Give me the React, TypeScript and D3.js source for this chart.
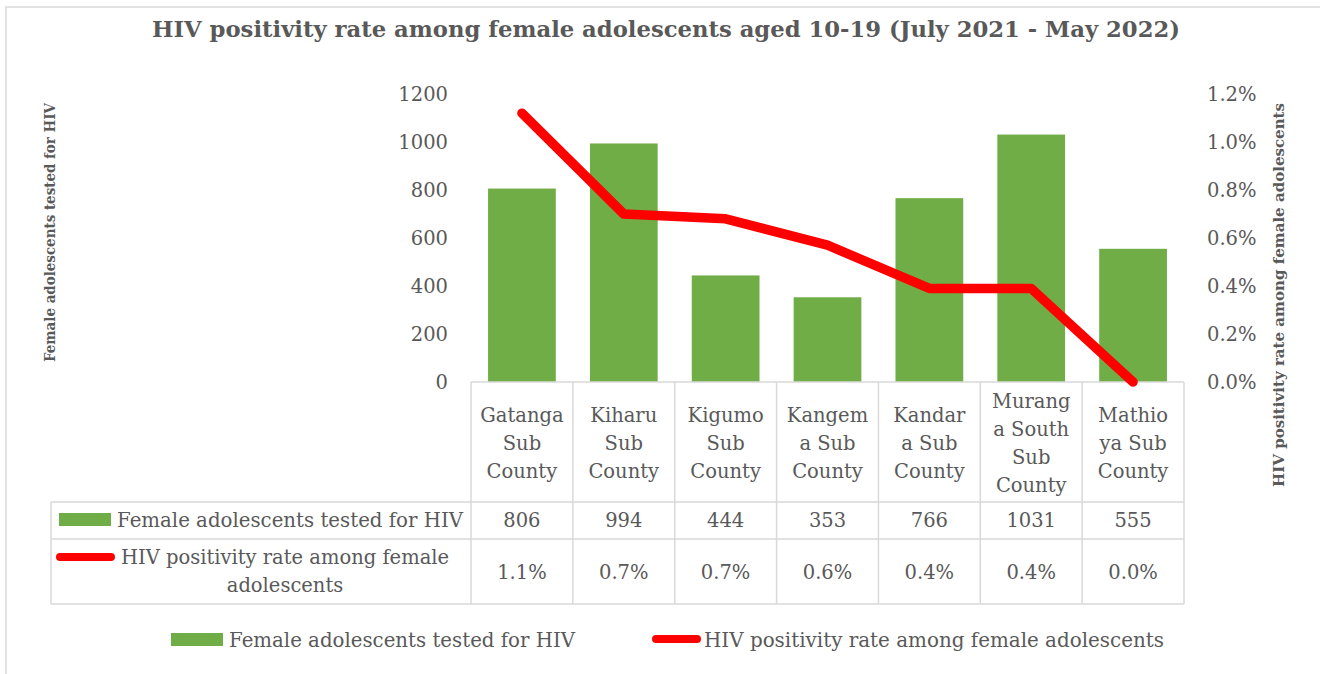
import React from "react";
import * as d3 from "d3";

const categories = [
  "Gatanga Sub County",
  "Kiharu Sub County",
  "Kigumo Sub County",
  "Kangema Sub County",
  "Kandara Sub County",
  "Muranga South Sub County",
  "Mathioya Sub County",
];
const categoryLines = [
  ["Gatanga", "Sub", "County"],
  ["Kiharu", "Sub", "County"],
  ["Kigumo", "Sub", "County"],
  ["Kangem", "a Sub", "County"],
  ["Kandar", "a Sub", "County"],
  ["Murang", "a South", "Sub", "County"],
  ["Mathio", "ya Sub", "County"],
];
const tested = [806, 994, 444, 353, 766, 1031, 555];
const positivity = [0.0112, 0.007, 0.0068, 0.0057, 0.0039, 0.0039, 0.0];
const leftTicks = [0, 200, 400, 600, 800, 1000, 1200];
const rightTicks = [0, 0.002, 0.004, 0.006, 0.008, 0.01, 0.012];

const title = "HIV positivity rate among female adolescents aged 10-19 (July 2021 - May 2022)";
const seriesBar = "Female adolescents tested for HIV";
const seriesLine = "HIV positivity rate among female adolescents";
const seriesLineWrapped = ["HIV positivity rate among female", "adolescents"];

const TEXT = "#595959";
const GRID = "#D9D9D9";
const GREEN = "#70AD47";
const RED = "#FF0000";
const FONT = "'DejaVu Serif', 'Liberation Serif', serif";

export default function App() {
  const W = 1320, H = 674;
  const plotL = 471, plotR = 1184, plotT = 94, plotB = 382;
  const x = d3.scaleBand<string>().domain(categories).range([plotL, plotR]).paddingInner(0.335).paddingOuter(0.1675);
  const yL = d3.scaleLinear().domain([0, 1200]).range([plotB, plotT]);
  const yR = d3.scaleLinear().domain([0, 0.012]).range([plotB, plotT]);
  const bw = x.bandwidth();
  const step = x.step();
  const colStart = (c: string) => (x(c) as number) - (step - bw) / 2;
  const cx = (c: string) => (x(c) as number) + bw / 2;

  const lineGen = d3.line<number>().x((_, i) => cx(categories[i])).y((v) => yR(v));
  const pct = d3.format(".1%");
  const fmtL = d3.format("d");

  const headerB = 502, row1B = 539, row2B = 604, tableL = 51;
  const fs = 19.5;

  return (
    <svg width={W} height={H} style={{ position: "absolute", left: 0, top: 0, background: "#fff" }} fontFamily={FONT}>
      <rect x={0} y={0} width={W} height={H} fill="#fff" />
      {/* chart border */}
      <path d={`M6,${H} V7 H${W}`} fill="none" stroke={GRID} strokeWidth={1.5} />

      {/* title */}
      <text x={666} y={37} textAnchor="middle" fontSize={22} fontWeight="bold" fill={TEXT} textLength={1028} lengthAdjust="spacingAndGlyphs">
        {title}
      </text>

      {/* axis titles */}
      <text transform={`translate(55,${(103 + 362) / 2}) rotate(-90)`} textAnchor="middle" fontSize={14} fontWeight="bold" fill={TEXT} textLength={259} lengthAdjust="spacingAndGlyphs">
        {seriesBar}
      </text>
      <text transform={`translate(1284,${(103 + 487) / 2}) rotate(-90)`} textAnchor="middle" fontSize={15.5} fontWeight="bold" fill={TEXT} textLength={384} lengthAdjust="spacingAndGlyphs">
        {seriesLine}
      </text>

      {/* left ticks */}
      {leftTicks.map((t) => (
        <text key={"l" + t} x={448} y={yL(t)} textAnchor="end" dominantBaseline="central" fontSize={fs} fill={TEXT}>
          {fmtL(t)}
        </text>
      ))}
      {/* right ticks */}
      {rightTicks.map((t) => (
        <text key={"r" + t} x={1207} y={yR(t)} textAnchor="start" dominantBaseline="central" fontSize={fs} fill={TEXT}>
          {pct(t)}
        </text>
      ))}

      {/* bars */}
      {categories.map((c, i) => (
        <rect key={"b" + c} x={x(c)} y={yL(tested[i])} width={bw} height={plotB - yL(tested[i])} fill={GREEN} />
      ))}

      {/* table grid */}
      <g stroke={GRID} strokeWidth={1.5} fill="none">
        <line x1={plotL} x2={plotR} y1={plotB} y2={plotB} />
        <line x1={tableL} x2={plotR} y1={headerB} y2={headerB} />
        <line x1={tableL} x2={plotR} y1={row1B} y2={row1B} />
        <line x1={tableL} x2={plotR} y1={row2B} y2={row2B} />
        <line x1={tableL} x2={tableL} y1={headerB} y2={row2B} />
        {categories.map((c) => (
          <line key={"v" + c} x1={colStart(c)} x2={colStart(c)} y1={plotB} y2={row2B} />
        ))}
        <line x1={plotR} x2={plotR} y1={plotB} y2={row2B} />
      </g>

      {/* line series */}
      <path d={lineGen(positivity) || ""} fill="none" stroke={RED} strokeWidth={9.5} strokeLinejoin="round" strokeLinecap="round" />

      {/* category labels */}
      {categories.map((c, i) => {
        const lines = categoryLines[i];
        const mid = (plotB + headerB) / 2 + 1;
        const lh = 28;
        return (
          <g key={"c" + c}>
            {lines.map((ln, j) => (
              <text key={j} x={cx(c)} y={mid + (j - (lines.length - 1) / 2) * lh} textAnchor="middle" dominantBaseline="central" fontSize={fs} fill={TEXT}>
                {ln}
              </text>
            ))}
          </g>
        );
      })}

      {/* table values */}
      {categories.map((c, i) => (
        <text key={"t1" + c} x={cx(c)} y={520} textAnchor="middle" dominantBaseline="central" fontSize={fs} fill={TEXT}>
          {tested[i]}
        </text>
      ))}
      {categories.map((c, i) => (
        <text key={"t2" + c} x={cx(c)} y={572} textAnchor="middle" dominantBaseline="central" fontSize={fs} fill={TEXT}>
          {pct(positivity[i])}
        </text>
      ))}

      {/* table legend keys */}
      <rect x={59} y={513} width={52} height={13} fill={GREEN} />
      <text x={117} y={520} dominantBaseline="central" fontSize={fs} fill={TEXT} textLength={346} lengthAdjust="spacingAndGlyphs">
        {seriesBar}
      </text>
      <line x1={60} x2={111} y1={557} y2={557} stroke={RED} strokeWidth={8} strokeLinecap="round" />
      {seriesLineWrapped.map((s, j) => (
        <text key={"w" + j} x={285} y={557 + j * 28} textAnchor="middle" dominantBaseline="central" fontSize={fs} fill={TEXT}>
          {s}
        </text>
      ))}

      {/* bottom legend */}
      <rect x={171} y={633} width={52} height={13} fill={GREEN} />
      <text x={229} y={640} dominantBaseline="central" fontSize={fs} fill={TEXT} textLength={346} lengthAdjust="spacingAndGlyphs">
        {seriesBar}
      </text>
      <line x1={656} x2={697} y1={639} y2={639} stroke={RED} strokeWidth={8} strokeLinecap="round" />
      <text x={704} y={640} dominantBaseline="central" fontSize={fs} fill={TEXT} textLength={460} lengthAdjust="spacingAndGlyphs">
        {seriesLine}
      </text>
    </svg>
  );
}
